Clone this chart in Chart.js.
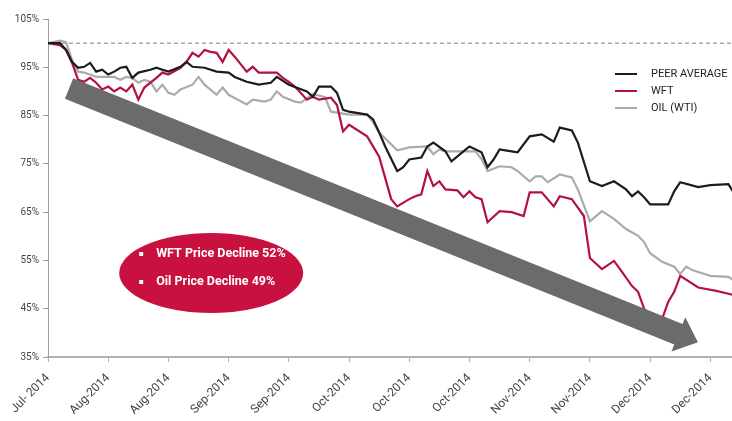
<!DOCTYPE html>
<html>
<head>
<meta charset="utf-8">
<script src="https://cdn.jsdelivr.net/npm/chart.js@4/dist/chart.umd.min.js"></script>
<style>
  html, body { margin: 0; padding: 0; background: #fff; }
  #wrap { width: 732px; height: 421px; }
</style>
</head>
<body>
<div id="wrap"><canvas id="perfChart" width="732" height="421"></canvas></div>
<script>
// x = trading day since 1 Jul 2014, y = % of starting value
const tickLabels = ["Jul- 2014", "Aug-2014", "Aug-2014", "Sep-2014", "Sep-2014", "Oct-2014",
  "Oct-2014", "Oct-2014", "Nov-2014", "Nov-2014", "Dec-2014", "Dec-2014"];

const peerDays = [0,2,3,4,5,6,7,8,9,10,11,12,13,14,15,17,18,19,20,22,23,24,26,28,30,31,33,35,37,38,
  40,43,44,45,47,48,49,50,53,54,55,56,58,59,60,62,63,64,66,67,69,70,72,73,74,75,77,78,80,82,
  84,85,87,88,90,92,94,96,97,98,99,100,103,104,105,108,110,113,114];
const peerValues = [100,100,98.6,96.1,94.9,95.1,95.9,94.1,94.5,93.5,94.1,94.9,95.1,92.8,93.9,94.5,94.9,94.5,94.1,95.1,
  96.1,95.1,94.9,94.1,93.9,93.0,92.0,91.4,91.8,93.0,91.4,90.0,88.9,91.0,91.0,89.7,86.2,85.8,85.2,84.2,
  81.5,78.6,73.5,74.3,75.9,76.3,78.6,79.4,77.6,75.5,77.6,78.6,77.4,74.3,75.9,78.0,77.6,77.4,80.7,81.1,
  79.6,82.5,81.9,79.4,71.4,70.4,71.4,69.7,68.3,69.3,68.1,66.6,66.6,69.3,71.2,70.2,70.6,70.8,68.8];

const wftDays = [0,2,3,4,5,6,7,8,9,10,11,12,13,14,15,16,18,19,20,22,23,24,25,26,27,28,29,30,31,33,
  34,35,38,39,40,41,43,44,45,47,48,49,50,53,55,57,58,60,61,62,63,64,65,66,68,69,70,71,72,73,
  75,77,79,80,82,84,85,87,89,90,92,94,95,97,98,99,100,102,103,104,105,108,111,113,114];
const wftValues = [100,99.6,98.6,95.9,92.4,92.0,92.8,91.8,90.4,91.0,90.0,90.8,90.0,91.4,88.3,90.8,92.8,93.9,93.5,94.9,
  96.1,98.0,97.2,98.6,98.2,98.0,96.1,98.6,97.2,94.1,95.1,93.9,93.9,92.8,92.0,91.0,88.3,88.9,88.3,88.7,
  87.2,81.7,83.1,80.7,76.5,67.7,66.2,67.7,68.3,68.7,73.5,70.4,71.4,69.7,69.5,68.1,69.3,68.1,67.7,62.9,
  65.2,65.0,64.2,69.1,69.1,66.2,68.3,67.7,64.2,55.5,53.2,54.9,53.2,49.7,48.5,45.0,43.6,42.9,46.4,48.5,
  51.8,49.4,48.7,48.1,47.8];

const oilDays = [0,2,3,4,5,6,7,8,10,11,12,13,14,15,16,17,18,19,20,21,22,24,25,26,28,29,30,33,34,36,
  37,38,39,41,42,44,46,47,48,50,53,54,55,58,60,63,64,65,66,69,71,72,73,75,77,78,80,81,82,83,
  85,87,88,90,92,94,96,98,99,100,102,104,105,106,107,108,110,113,114];
const oilValues = [100,100.5,100.2,96.5,94.1,93.9,93.5,93.0,93.0,93.0,92.4,93.0,92.8,91.8,92.4,92.0,90.0,91.4,89.7,89.3,
  90.4,91.4,93.0,91.4,89.3,90.8,89.3,87.3,88.3,87.9,88.3,90.0,88.9,87.9,87.7,89.5,88.8,85.8,85.6,85.2,
  85.2,83.6,81.5,77.8,78.4,78.6,77.0,78.0,77.6,77.6,77.6,76.0,73.5,74.5,74.3,73.5,71.4,72.4,72.4,71.2,
  72.8,72.2,69.7,63.1,65.2,63.6,61.5,60.1,58.8,56.5,54.7,53.7,52.2,53.7,53.0,52.6,51.8,51.6,50.8];

const baseline = 100;
const calloutLines = ["WFT Price Decline 52%", "Oil Price Decline 49%"];
// arrow and callout anchors, in (day, %) units
const arrowFrom = [3.5, 90.6];
const arrowTo = [104.7, 39.7];
const calloutCenter = [27.1, 52.4];

const seriesNames = ["PEER AVERAGE", "WFT", "OIL (WTI)"];
const seriesColors = ["#1c1c1c", "#b3123e", "#ababab"];

function toPoints(days, values) {
  return days.map((d, i) => ({ x: d, y: values[i] }));
}

const overlays = {
  id: "overlays",
  afterDatasetsDraw(chart) {
    const { ctx, scales: { x, y } } = chart;

    // big trend arrow
    const x0 = x.getPixelForValue(arrowFrom[0]), y0 = y.getPixelForValue(arrowFrom[1]);
    const x1 = x.getPixelForValue(arrowTo[0]), y1 = y.getPixelForValue(arrowTo[1]);
    const len = Math.hypot(x1 - x0, y1 - y0);
    ctx.save();
    ctx.translate(x0, y0);
    ctx.rotate(Math.atan2(y1 - y0, x1 - x0));
    ctx.beginPath();
    ctx.moveTo(0, -11);
    ctx.lineTo(len, -11);
    ctx.lineTo(len, -18.5);
    ctx.lineTo(len + 21, 0);
    ctx.lineTo(len, 18.5);
    ctx.lineTo(len, 11);
    ctx.lineTo(0, 11);
    ctx.closePath();
    ctx.fillStyle = "#6b6b6b";
    ctx.fill();
    ctx.restore();

    // red callout
    const cx = x.getPixelForValue(calloutCenter[0]), cy = y.getPixelForValue(calloutCenter[1]);
    ctx.save();
    ctx.beginPath();
    ctx.ellipse(cx, cy, 92, 40, 0, 0, Math.PI * 2);
    ctx.fillStyle = "#c8113f";
    ctx.fill();
    ctx.fillStyle = "#ffffff";
    ctx.font = "bold 12.5px Roboto";
    ctx.textBaseline = "middle";
    calloutLines.forEach((txt, i) => {
      const ty = cy - 19 + i * 28;
      ctx.fillRect(cx - 72, ty - 2, 4, 4);
      ctx.fillText(txt, cx - 55, ty);
    });
    ctx.restore();
  },
  afterDraw(chart) {
    // legend, drawn by hand so it sits inside the plot
    const { ctx } = chart;
    ctx.save();
    ctx.font = "11px Roboto";
    ctx.textBaseline = "middle";
    seriesNames.forEach((name, i) => {
      const ly = 74 + i * 17;
      ctx.strokeStyle = seriesColors[i];
      ctx.lineWidth = 2;
      ctx.beginPath();
      ctx.moveTo(615, ly);
      ctx.lineTo(637, ly);
      ctx.stroke();
      ctx.fillStyle = "#222";
      ctx.fillText(name, 651, ly);
    });
    ctx.restore();
  }
};

new Chart(document.getElementById("perfChart"), {
  type: "line",
  data: {
    datasets: [
      { label: seriesNames[0], data: toPoints(peerDays, peerValues), borderColor: seriesColors[0], borderWidth: 2.2 },
      { label: seriesNames[1], data: toPoints(wftDays, wftValues), borderColor: seriesColors[1], borderWidth: 2.2 },
      { label: seriesNames[2], data: toPoints(oilDays, oilValues), borderColor: seriesColors[2], borderWidth: 2.2 },
      {
        label: "base",
        data: [{ x: 0, y: baseline }, { x: 114, y: baseline }],
        borderColor: "#a8a8a8",
        borderWidth: 1.5,
        borderDash: [4, 3]
      }
    ]
  },
  options: {
    responsive: false,
    animation: false,
    layout: { padding: { top: 19, right: 0, bottom: 0, left: 0 } },
    elements: { point: { radius: 0 }, line: { tension: 0 } },
    plugins: { legend: { display: false }, tooltip: { enabled: false } },
    scales: {
      x: {
        type: "linear",
        min: 0,
        max: 113.6,
        afterFit(scale) { scale.height = 64; },
        border: { color: "#b0b0b0", width: 2 },
        grid: { drawOnChartArea: false, drawTicks: true, tickLength: 5, color: "#b0b0b0" },
        ticks: {
          stepSize: 10,
          includeBounds: false,
          autoSkip: false,
          maxRotation: 45,
          minRotation: 45,
          padding: 9,
          color: "#444",
          font: { family: "Roboto", size: 12 },
          callback: (v) => (v % 10 === 0 ? tickLabels[v / 10] : "")
        }
      },
      y: {
        min: 35,
        max: 105,
        afterFit(scale) { scale.width = 48; },
        border: { color: "#a0a0a0", width: 1 },
        grid: { drawOnChartArea: false, drawTicks: true, tickLength: 5, color: "#a0a0a0" },
        ticks: {
          stepSize: 10,
          padding: 4,
          color: "#444",
          font: { family: "Roboto", size: 10 },
          callback: (v) => v + "%"
        }
      }
    }
  },
  plugins: [overlays]
});
</script>
</body>
</html>
